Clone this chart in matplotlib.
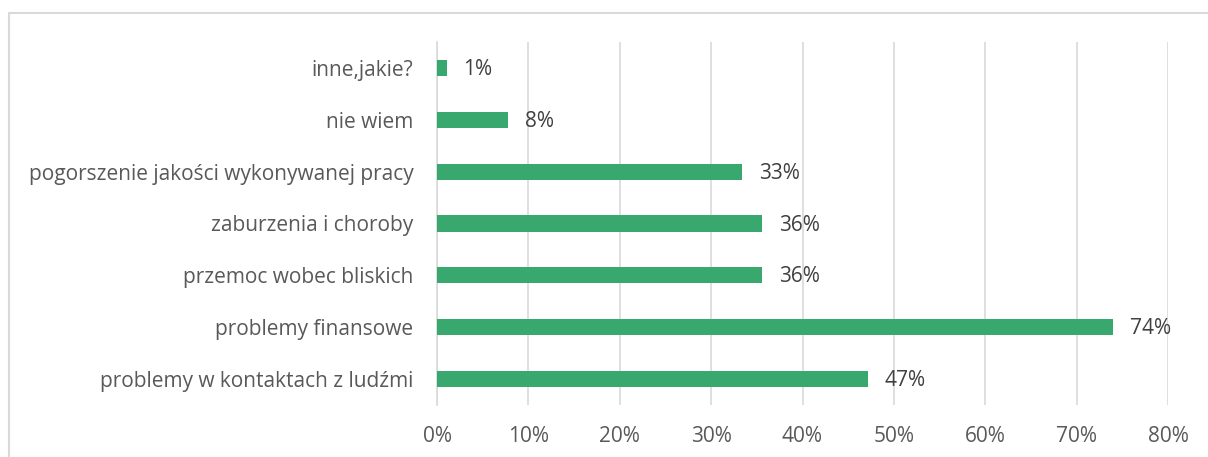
import matplotlib.pyplot as plt
from matplotlib.patches import Rectangle

categories = ["inne,jakie?", "nie wiem", "pogorszenie jakości wykonywanej pracy",
              "zaburzenia i choroby", "przemoc wobec bliskich",
              "problemy finansowe", "problemy w kontaktach z ludźmi"]
values = [1.1, 7.8, 33.4, 35.6, 35.6, 74.0, 47.2]
labels = ["1%", "8%", "33%", "36%", "36%", "74%", "47%"]
ticks = list(range(0, 81, 10))

plt.rcParams['font.family'] = ['Open Sans', 'DejaVu Sans']

fig = plt.figure(figsize=(12.08, 4.57), dpi=100)
ax = fig.add_axes([437 / 1208, 1 - 405 / 457, (1168 - 437) / 1208, (405 - 42) / 457])

# chart frame
fig.patches.append(Rectangle((9 / 1208, -0.1), 1.2, 1 - 13 / 457 + 0.1,
                             transform=fig.transFigure, fill=False,
                             edgecolor='#D9D9D9', linewidth=1.5))

ypos = list(range(len(categories)))
ax.barh(ypos, values, height=0.31, color='#38A86E', zorder=3)
for y, v, lab in zip(ypos, values, labels):
    ax.text(v + 1.8, y + 0.03, lab, va='center', ha='left', fontsize=15, color='#404040')

ax.set_xlim(0, 80)
ax.set_ylim(len(categories) - 0.5, -0.5)
ax.set_xticks(ticks)
ax.set_xticklabels([f"{t}%" for t in ticks])
ax.set_yticks(ypos)
ax.set_yticklabels(categories)
ax.tick_params(axis='both', length=0, labelsize=15, labelcolor='#595959')
ax.tick_params(axis='x', pad=15)
ax.tick_params(axis='y', pad=17)
ax.grid(axis='x', color='#D9D9D9', linewidth=1.2, zorder=0)
for s in ['top', 'right', 'bottom']:
    ax.spines[s].set_visible(False)
ax.spines['left'].set_color('#D9D9D9')
ax.spines['left'].set_linewidth(1.2)

fig.savefig('out.png', dpi=100)
